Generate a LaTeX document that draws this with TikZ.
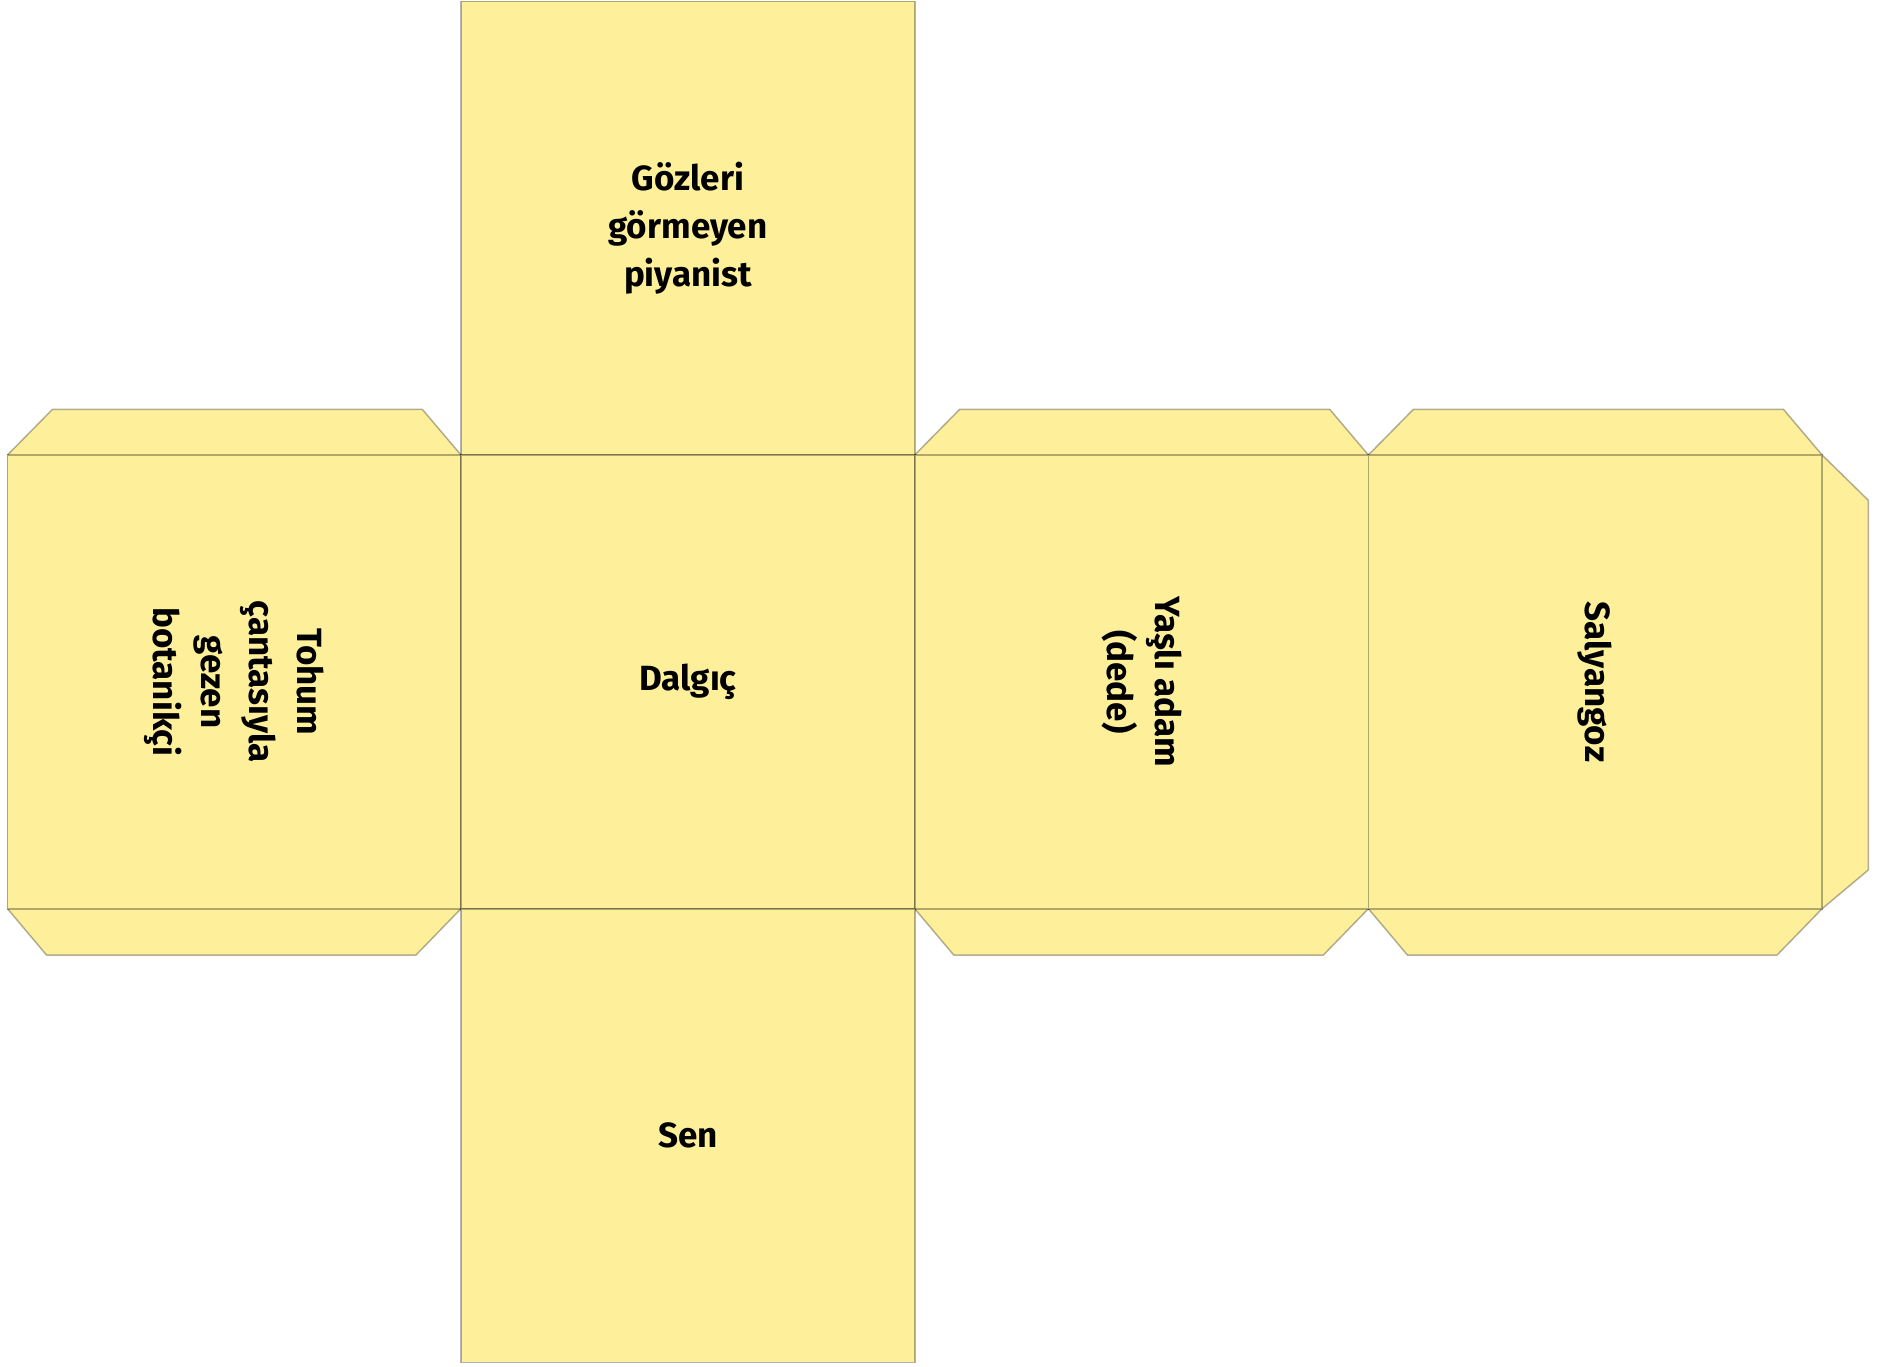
\documentclass[tikz,border=0pt]{standalone}
\usepackage{fontspec}
\setmainfont{Fira Sans}
\usepackage{tikz}

\definecolor{kart}{RGB}{254,240,154}

\tikzset{
  face/.style={draw=black, draw opacity=0.3, line width=1.5pt, fill=kart,
    minimum size=453.7pt, inner sep=0pt, align=center,
    font=\fontsize{35}{48}\selectfont\bfseries},
  tab/.style={draw=black, draw opacity=0.3, line width=1.5pt, fill=kart, line join=round}
}

\begin{document}
\begin{tikzpicture}[x=1pt,y=-1pt]
        \useasboundingbox (0,0) rectangle (1892,1367); % page frame
        \foreach \a/\b in {7.5/461, 914.7/1368.4, 1368.4/1822.1}{
          \draw[tab] (\a,455) -- (\a+45,409.3) -- (\b-38.7,409.3) -- (\b,455); % top flap
          \draw[tab] (\a,908.7) -- (\a+39,955) -- (\b-45,955) -- (\b,908.7); % bottom flap
        }
        \draw[tab] (1822.1,455) -- (1868.3,500.3) -- (1868.3,870) -- (1822.1,908.7); % side flap
        \node[face] (piyanist) at (687.9,228.2) {Gözleri\\görmeyen\\piyanist}; % top face
        \node[face, rotate=-90] (botanikci) at (234.3,681.9) {Tohum\\çantasıyla\\gezen\\botanikçi}; % left face
        \node[face] (dalgic) at (687.9,681.9) {Dalgıç}; % centre face
        \node[face, rotate=-90] (dede) at (1141.6,681.9) {Yaşlı adam\\(dede)}; % third face
        \node[face, rotate=-90] (salyangoz) at (1595.3,681.9) {Salyangoz}; % fourth face
        \node[face] (sen) at (687.9,1135.6) {Sen}; % bottom face
      \end{tikzpicture}
\end{document}
